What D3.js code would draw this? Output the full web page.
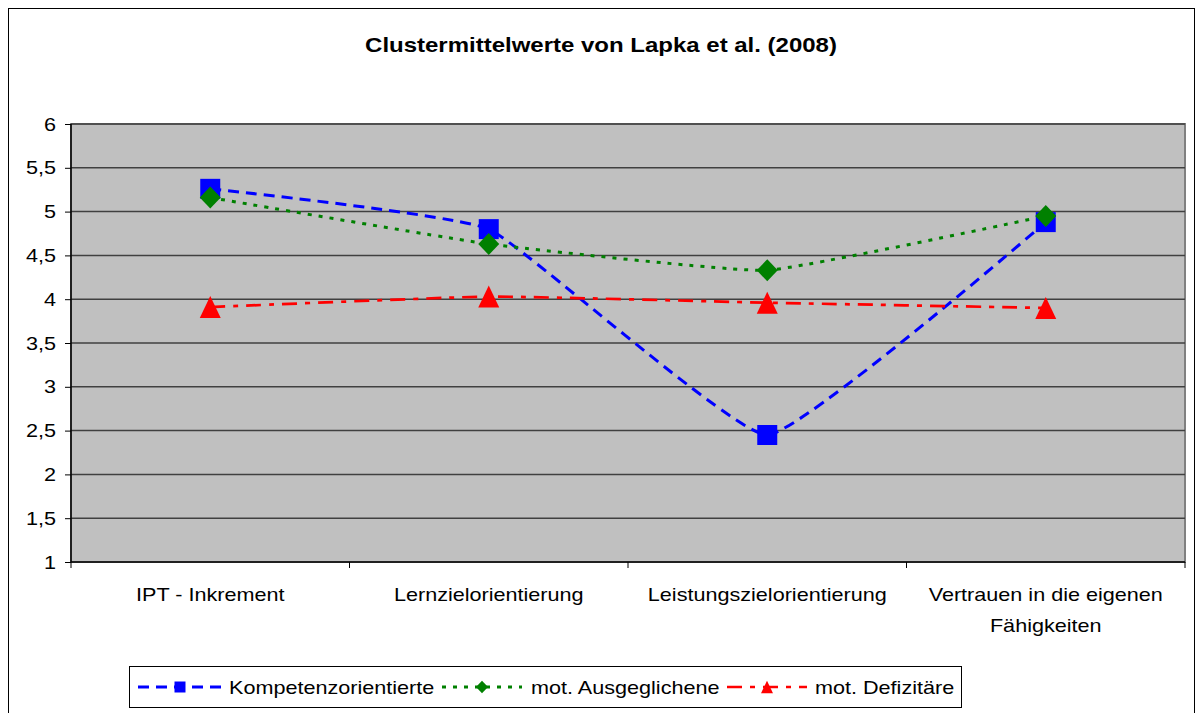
<!DOCTYPE html>
<html><head><meta charset="utf-8">
<script src="https://cdn.jsdelivr.net/npm/d3@7"></script>
<style>body{margin:0;background:#fff}svg{display:block}text{font-family:"Liberation Sans",Arial,sans-serif;fill:#000}</style>
</head><body>
<svg id="c" width="1196" height="713"></svg>
<script>
const title = "Clustermittelwerte von Lapka et al. (2008)";
const categories = ["IPT - Inkrement", "Lernzielorientierung", "Leistungszielorientierung", "Vertrauen in die eigenen|Fähigkeiten"];
const yTicks = [1, 1.5, 2, 2.5, 3, 3.5, 4, 4.5, 5, 5.5, 6];
const seriesNames = ["Kompetenzorientierte", "mot. Ausgeglichene", "mot. Defizitäre"];
const kompetenz = [5.26, 4.80, 2.45, 4.88];
const ausgeglichen = [5.16, 4.63, 4.33, 4.95];
const defizitaer = [3.91, 4.03, 3.96, 3.90];

const SX = 1.2; // horizontal stretch of text as in reference
const svg = d3.select("#c");
const L = 71, R = 1185, T = 124, B = 562;
const x = d3.scaleBand().domain(categories).range([L, R]);
const y = d3.scaleLinear().domain([1, 6]).range([B, T]);
const cx = c => x(c) + x.bandwidth() / 2;

function stext(g, px, py, str, size, anchor, bold) {
  return g.append("text").attr("transform", `translate(${px},${py}) scale(${SX},1)`)
    .attr("text-anchor", anchor || "start").attr("font-size", size)
    .attr("font-weight", bold ? "bold" : "normal").text(str);
}

// outer border
svg.append("rect").attr("x", 8.5).attr("y", 8.5).attr("width", 1186).attr("height", 720)
  .attr("fill", "#fff").attr("stroke", "#000").attr("stroke-width", 1);

stext(svg, 601, 52, title, 20, "middle", true);

// plot area
svg.append("rect").attr("x", L).attr("y", T).attr("width", R - L).attr("height", B - T)
  .attr("fill", "#C0C0C0").attr("stroke", "#808080").attr("stroke-width", 2);

// gridlines
svg.append("g").selectAll("line").data(yTicks.slice(1)).join("line")
  .attr("x1", L).attr("x2", R).attr("y1", d => y(d)).attr("y2", d => y(d))
  .attr("stroke", "#404040").attr("stroke-width", 1.5);

// y axis
const yAxis = d3.axisLeft(y).tickValues(yTicks).tickSize(6).tickFormat(() => "");
const gy = svg.append("g").attr("transform", `translate(${L},0)`).call(yAxis);
gy.select(".domain").attr("stroke", "#000").attr("stroke-width", 1.5).attr("d", `M0,${T}V${B}`);
gy.selectAll(".tick line").attr("stroke", "#000");
yTicks.forEach(v => stext(svg, 56, y(v) + 6.5, String(v).replace(".", ","), 18, "end"));

// x axis
const gx = svg.append("g").attr("transform", `translate(0,${B})`);
gx.append("line").attr("x1", L).attr("x2", R).attr("stroke", "#000").attr("stroke-width", 1.5);
const bounds = categories.map(c => x(c)).concat([R]);
gx.selectAll("line.tk").data(bounds).join("line").attr("class", "tk")
  .attr("x1", d => d).attr("x2", d => d).attr("y1", 0).attr("y2", 6).attr("stroke", "#000");
categories.forEach(c => {
  c.split("|").forEach((l, i) => stext(svg, cx(c), B + 39 + i * 31, l, 18, "middle"));
});

const symbols = {
  square: {draw(ctx, s) { const r = Math.sqrt(s) / 2; ctx.rect(-r, -r, 2 * r, 2 * r); }},
  diamond: {draw(ctx, s) { const r = Math.sqrt(s) / 2; ctx.moveTo(0, -r * 1.05); ctx.lineTo(r, 0); ctx.lineTo(0, r * 1.05); ctx.lineTo(-r, 0); ctx.closePath(); }},
  triangle: {draw(ctx, s) { const r = Math.sqrt(s) / 2; ctx.moveTo(0, -r * 1.05); ctx.lineTo(r, r * 1.05); ctx.lineTo(-r, r * 1.05); ctx.closePath(); }}
};
const series = [
  {name: seriesNames[0], values: kompetenz, color: "#0000FF", dash: "11,7", width: 3, marker: "square", ms: 20, ls: 11},
  {name: seriesNames[1], values: ausgeglichen, color: "#008000", dash: "4,7", width: 3, marker: "diamond", ms: 21, ls: 12},
  {name: seriesNames[2], values: defizitaer, color: "#FF0000", dash: "15,8,5,8", width: 2.7, marker: "triangle", ms: 21, ls: 12}
];

const line = d3.line().x((d, i) => cx(categories[i])).y(d => y(d))
  .curve(d3.curveCardinal.tension(0.65));

series.forEach(s => {
  svg.append("path").attr("d", line(s.values)).attr("fill", "none")
    .attr("stroke", s.color).attr("stroke-width", s.width).attr("stroke-dasharray", s.dash);
});
series.forEach(s => {
  svg.append("g").selectAll("path").data(s.values).join("path")
    .attr("transform", (d, i) => `translate(${cx(categories[i])},${y(d)})`)
    .attr("d", d3.symbol().type(symbols[s.marker]).size(s.ms * s.ms))
    .attr("fill", s.color);
});

// legend
const lg = svg.append("g");
lg.append("rect").attr("x", 129.5).attr("y", 666.5).attr("width", 832).attr("height", 41)
  .attr("fill", "#fff").attr("stroke", "#000").attr("stroke-width", 1);
const legPos = [{x0: 138, x1: 222, tx: 229}, {x0: 442, x1: 522, tx: 531}, {x0: 727, x1: 807, tx: 815}];
series.forEach((s, i) => {
  const p = legPos[i], cy = 687;
  lg.append("line").attr("x1", p.x0).attr("x2", p.x1).attr("y1", cy).attr("y2", cy)
    .attr("stroke", s.color).attr("stroke-width", s.width).attr("stroke-dasharray", s.dash);
  lg.append("path").attr("transform", `translate(${(p.x0 + p.x1) / 2},${cy})`)
    .attr("d", d3.symbol().type(symbols[s.marker]).size(s.ls * s.ls)).attr("fill", s.color);
  stext(lg, p.tx, cy + 6.5, s.name, 18, "start");
});
</script>
</body></html>
